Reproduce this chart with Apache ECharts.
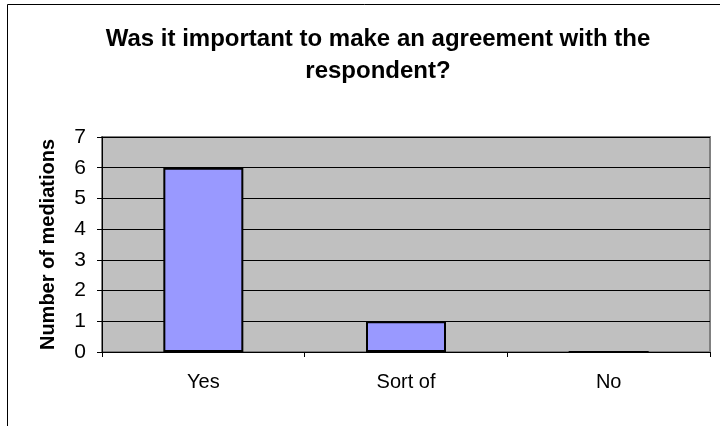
<!DOCTYPE html>
<html>
<head>
<meta charset="utf-8">
<script src="https://cdn.jsdelivr.net/npm/echarts@6/dist/echarts.min.js"></script>
<style>
  html, body { margin: 0; padding: 0; background: #fff; }
  #chart { width: 720px; height: 426px; }
</style>
</head>
<body>
<div id="chart"></div>
<script>
// Survey answers and counts
const categories = ['Yes', 'Sort of', 'No'];
const mediations = [6, 1, 0];
const yTicks = [0, 1, 2, 3, 4, 5, 6, 7];

const titleText = 'Was it important to make an agreement with the\nrespondent?';
const yAxisTitle = 'Number of mediations';

const FONT = 'Liberation Sans, Arial, sans-serif';

const chart = echarts.init(document.getElementById('chart'), null, { renderer: 'canvas' });

chart.setOption({
  animation: false,
  backgroundColor: '#ffffff',
  title: {
    text: titleText,
    left: 373,
    top: 18,
    textAlign: 'center',
    textStyle: {
      fontFamily: FONT,
      fontSize: 24,
      fontWeight: 'bold',
      color: '#000',
      lineHeight: 32
    }
  },
  graphic: [
    {
      type: 'polyline',
      silent: true,
      shape: { points: [[7.5, 430], [7.5, 4.5], [730, 4.5]] },
      style: { stroke: '#000', lineWidth: 1, fill: null }
    }
  ],
  grid: {
    left: 102,
    right: 10,
    top: 137,
    bottom: 74,
    show: true,
    backgroundColor: '#C0C0C0',
    borderColor: '#808080',
    borderWidth: 2
  },
  xAxis: {
    type: 'category',
    data: categories,
    axisLine: { show: true, lineStyle: { color: '#000', width: 1 } },
    axisTick: { show: true, alignWithLabel: false, length: 5, lineStyle: { color: '#000' } },
    axisLabel: {
      margin: 20,
      fontFamily: FONT,
      fontSize: 20,
      color: '#000'
    },
    splitLine: { show: false }
  },
  yAxis: {
    type: 'value',
    min: yTicks[0],
    max: yTicks[yTicks.length - 1],
    interval: 1,
    name: yAxisTitle,
    nameLocation: 'middle',
    nameGap: 44,
    nameRotate: 90,
    nameTextStyle: {
      fontFamily: FONT,
      fontSize: 20,
      fontWeight: 'bold',
      color: '#000'
    },
    axisLine: { show: true, lineStyle: { color: '#000', width: 1 } },
    axisTick: { show: true, length: 5, lineStyle: { color: '#000' } },
    axisLabel: {
      margin: 16,
      fontFamily: FONT,
      fontSize: 21,
      color: '#000'
    },
    splitLine: { show: true, lineStyle: { color: '#000', width: 1 } }
  },
  series: [{
    type: 'bar',
    data: mediations,
    barWidth: 80,
    itemStyle: {
      color: '#9999FF',
      borderColor: '#000',
      borderWidth: 2
    }
  }]
});
</script>
</body>
</html>
